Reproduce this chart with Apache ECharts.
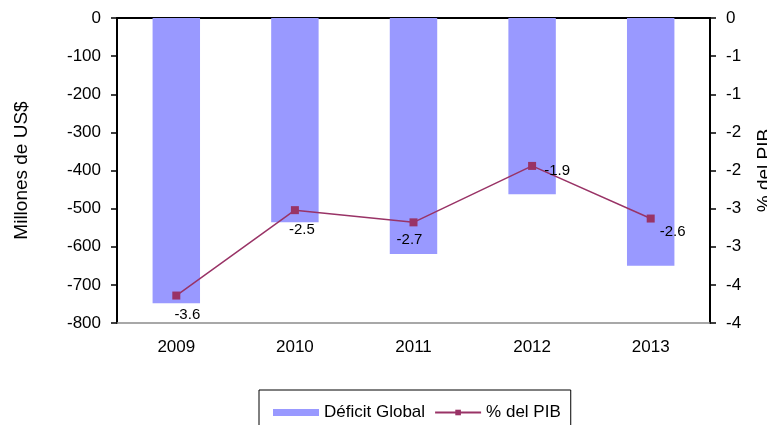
<!DOCTYPE html>
<html>
<head>
<meta charset="utf-8">
<script src="https://cdn.jsdelivr.net/npm/echarts@6/dist/echarts.min.js"></script>
<style>
html, body { margin: 0; padding: 0; background: #fff; }
#main { width: 767px; height: 425px; }
</style>
</head>
<body>
<div id="main"></div>
<script>
var years = ['2009', '2010', '2011', '2012', '2013'];
var deficit = [-748, -536, -619, -462, -650];
var pctPib = [-3.64, -2.52, -2.68, -1.94, -2.63];

// where each data label sits relative to its marker
var labelShift = [[11, 19], [7, 20], [-4, 18], [25, 5], [22, 13]];

var font = 'Liberation Sans, Arial, sans-serif';

var lineData = pctPib.map(function (v, i) {
    return {
        value: v,
        label: { offset: labelShift[i] }
    };
});

var myChart = echarts.init(document.getElementById('main'));
var option = {
    animation: false,
    textStyle: { fontFamily: font, color: '#000' },
    grid: { left: 117, right: 57, top: 18, bottom: 102, containLabel: false, outerBoundsMode: 'none' },
    legend: {
        left: 259,
        top: 390,
        orient: 'horizontal',
        borderColor: '#000',
        borderWidth: 1,
        borderRadius: 0,
        padding: [14, 10, 20, 14],
        itemWidth: 46,
        itemHeight: 7,
        itemGap: 9,
        textStyle: { fontFamily: font, fontSize: 17, color: '#000' },
        data: [
            { name: 'Déficit Global', icon: 'rect' },
            { name: '% del PIB' }
        ]
    },
    xAxis: [{
        type: 'category',
        position: 'bottom',
        data: years,
        axisLine: { onZero: false, lineStyle: { color: '#8c8c8c', width: 1.5 } },
        axisTick: { show: false },
        axisLabel: { margin: 16, fontSize: 17, color: '#000', fontFamily: font }
    }, {
        type: 'category',
        position: 'top',
        data: years,
        axisLine: { lineStyle: { color: '#000', width: 2 } },
        axisTick: { inside: true, length: 5, lineStyle: { color: '#000', width: 1.5 } },
        axisLabel: { show: false }
    }],
    yAxis: [{
        type: 'value',
        position: 'left',
        min: -800,
        max: 0,
        interval: 100,
        name: 'Millones de US$',
        nameLocation: 'middle',
        nameGap: 86,
        nameRotate: 90,
        nameTextStyle: { fontSize: 19, color: '#000', fontFamily: font },
        splitLine: { show: false },
        axisLine: { show: true, lineStyle: { color: '#000', width: 2 } },
        axisTick: { show: true, length: 6, lineStyle: { color: '#000', width: 1.5 } },
        axisLabel: { margin: 16, fontSize: 17, color: '#000', fontFamily: font }
    }, {
        type: 'value',
        position: 'right',
        min: -4,
        max: 0,
        interval: 0.5,
        name: '% del PIB',
        nameLocation: 'middle',
        nameGap: 45,
        nameRotate: 90,
        nameTextStyle: { fontSize: 19, color: '#000', fontFamily: font },
        splitLine: { show: false },
        axisLine: { show: true, lineStyle: { color: '#000', width: 2 } },
        axisTick: { show: true, length: 6, lineStyle: { color: '#000', width: 1.5 } },
        axisLabel: {
            margin: 16,
            fontSize: 17,
            color: '#000',
            fontFamily: font,
            formatter: function (v) {
                if (v === 0) return '0';
                return String(-Math.round(-v));
            }
        }
    }],
    series: [{
        name: 'Déficit Global',
        type: 'bar',
        xAxisIndex: 0,
        yAxisIndex: 0,
        barWidth: '40%',
        itemStyle: { color: '#9999ff' },
        data: deficit
    }, {
        name: '% del PIB',
        type: 'line',
        xAxisIndex: 0,
        yAxisIndex: 1,
        symbol: 'rect',
        symbolSize: 8,
        itemStyle: { color: '#993366' },
        lineStyle: { color: '#993366', width: 1.5 },
        label: {
            show: true,
            position: 'inside',
            fontSize: 15,
            color: '#000',
            fontFamily: font,
            formatter: function (p) { return p.value.toFixed(1); }
        },
        data: lineData
    }]
};
myChart.setOption(option);
</script>
</body>
</html>
